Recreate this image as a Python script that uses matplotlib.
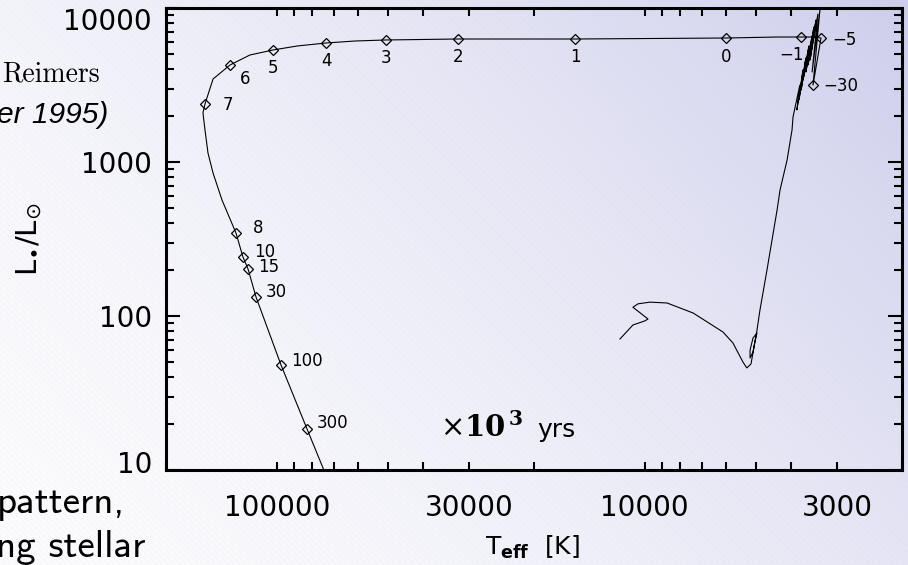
import numpy as np
import matplotlib
matplotlib.use("Agg")
import matplotlib.pyplot as plt
from matplotlib.ticker import FixedLocator, LogLocator, NullFormatter, FuncFormatter
from matplotlib.transforms import ScaledTranslation

# ---- evolutionary track (effective temperature in K, luminosity in L_sun) ----
track_teff = [
    11680, 10770, 9990, 9800, 10770, 10430, 9680, 8700, 7390, 6130, 5760,
    5410, 5280, 5145, 5020, 4955, 5080, 5175, 5175, 5080, 4955, 4865, 4655,
    4510, 4370, 4290, 4105, 3980, 3955,
    3790, 3860, 3715, 3810, 3650, 3760, 3580, 3715, 3510, 3650, 3470, 3600,
    3425, 3555, 3385, 3510, 3340,
    3490, 3320, 3510, 3763, 4373, 6016, 15470, 32170, 50500, 61300, 73490,
    88100, 102400, 118300, 134000, 149000, 156700, 158700, 156700, 153800,
    149000, 140900, 129100, 123600, 119700, 113900, 97390, 82780, 71700,
]
track_lum = [
    70.9, 87.4, 93.0, 95.6, 114, 120, 123, 121.5, 104.6, 78.7, 66.8,
    50.2, 46.0, 48.8, 67.8, 77.5, 72.0, 60.1, 53.4, 58.4, 81.1, 109, 199,
    312, 488, 658, 1030, 1614, 1960,
    3160, 2180, 3960, 2530, 4740, 2930, 5670, 3410, 6580, 3840, 7530, 4270,
    8360, 4600, 9140, 3840, 9850,
    3160, 6385, 6480, 6480, 6480, 6385, 6290, 6290, 6200, 6105, 5925,
    5665, 5337, 4953, 4265, 3459, 2380, 2081, 1614, 1144,
    848, 567, 346, 242, 202, 133, 48.1, 18.5, 8.0,
]

# ---- age markers (10^3 yr relative to the end of the AGB) ----
age_kyr = [-30, -5, -1, 0, 1, 2, 3, 4, 5, 6, 7, 8, 10, 15, 30, 100, 300]
age_teff = [3490, 3320, 3763, 6016, 15470, 32170, 50500, 73490, 102400,
            134000, 156700, 129100, 123600, 119700, 113900, 97390, 82780]
age_lum = [3160, 6385, 6480, 6385, 6290, 6290, 6200, 5925, 5337,
           4265, 2380, 346, 242, 202, 133, 48.1, 18.5]

x_ticks = [100000, 30000, 10000, 3000]
y_ticks = [10, 100, 1000, 10000]

# label placement for each age marker: pixels right / pixels down, alignment
label_place = {
    -30: (10, 1, "left"), -5: (11, 2, "left"), -1: (-9, 18, "center"),
    0: (0, 19, "center"), 1: (0, 18, "center"), 2: (0, 18, "center"),
    3: (0, 18, "center"), 4: (0, 18, "center"), 5: (0, 18, "center"),
    6: (10, 14, "left"), 7: (18, 1, "left"), 8: (17, -5, "left"),
    10: (11, -5, "left"), 15: (10, -2, "left"), 30: (10, -5, "left"),
    100: (10, -4, "left"), 300: (10, -6, "left"),
}

W, H = 908, 565
fig = plt.figure(figsize=(W / 100, H / 100), dpi=100)

# slide background: soft diagonal lavender gradient with fine hatching
bg = fig.add_axes([0, 0, 1, 1], zorder=-10)
yy, xx = np.mgrid[0:H, 0:W]
t = 0.65 * xx / W + 0.35 * (1 - yy / H)
w = t ** 1.6
white = np.array([252, 252, 254]) / 255
lav = np.array([206, 206, 236]) / 255
img = white + (lav - white) * w[..., None]
stripe = (0.5 * (1 + np.cos(2 * np.pi * (xx - yy) / 6))) ** 6
img = img - (stripe * (1 - w) * 5 / 255)[..., None]
bg.imshow(np.clip(img, 0, 1), aspect="auto", interpolation="nearest")
bg.set_axis_off()

# main HR diagram
ax = fig.add_axes([166 / W, (H - 470) / H, 736 / W, 462 / H])
ax.set_facecolor("none")
ax.set_xscale("log")
ax.set_yscale("log")
ax.set_xlim(2e5, 2e3)
ax.set_ylim(10, 1e4)

ax.plot(track_teff, track_lum, color="black", lw=0.8, zorder=3)
ax.plot(age_teff, age_lum, ls="none", marker="D", ms=5.5, mfc="none",
        mec="black", mew=0.9, zorder=4)
for age, te, lu in zip(age_kyr, age_teff, age_lum):
    dx, dy, ha = label_place[age]
    txt = str(age).replace("-", "\u2212")
    ax.annotate(txt, (te, lu), xytext=(dx, -dy), textcoords="offset pixels",
                ha=ha, va="center", fontsize=12, zorder=5)

ax.xaxis.set_major_locator(FixedLocator(x_ticks))
ax.yaxis.set_major_locator(FixedLocator(y_ticks))
fmt = FuncFormatter(lambda v, p: f"{v:.0f}")
ax.xaxis.set_major_formatter(fmt)
ax.yaxis.set_major_formatter(fmt)
ax.xaxis.set_minor_locator(LogLocator(base=10, subs=np.arange(2, 10)))
ax.yaxis.set_minor_locator(LogLocator(base=10, subs=np.arange(2, 10)))
ax.xaxis.set_minor_formatter(NullFormatter())
ax.yaxis.set_minor_formatter(NullFormatter())

ax.tick_params(which="both", direction="in", top=True, right=True,
               width=1.5, labelsize=20)
ax.tick_params(axis="x", which="both", length=6, pad=17)
ax.tick_params(axis="y", which="major", length=10, pad=10)
ax.tick_params(axis="y", which="minor", length=6)
for sp in ax.spines.values():
    sp.set_linewidth(2.2)

yt = ax.yaxis.get_major_ticks()
yt[-1].label1.set_va("top")
yt[0].label1.set_va("baseline")
yt[0].label1.set_transform(yt[0].label1.get_transform()
                           + ScaledTranslation(0, -3 / 100, fig.dpi_scale_trans))

# axis titles
fig.text(532 / W, 1 - 547 / H, r"T$_{\mathbf{eff}}$  [K]", fontsize=18,
         ha="center", va="center")
fig.text(29 / W, 1 - 239 / H, r"L$_{\bullet}$/L$_{\odot}$", fontsize=21,
         rotation=90, ha="center", va="center")

# time unit of the marker labels
fig.text(440 / W, 1 - 437 / H, r"$\times\mathbf{10}^{\,\mathbf{3}}$",
         fontsize=21, math_fontfamily="dejavuserif", ha="left", va="baseline")
fig.text(537 / W, 1 - 437 / H, "yrs", fontsize=18, ha="left", va="baseline")

# surrounding slide text
fig.text(100 / W, 1 - 81 / H, "Reimers", family="cmr10", fontsize=20,
         ha="right", va="baseline")
fig.text(108 / W, 1 - 123 / H, "er 1995)", family="Liberation Sans",
         style="italic", fontsize=21.5, ha="right", va="baseline")
fig.text(125 / W, 1 - 513 / H, "pattern,", family="cmss10", fontsize=28,
         ha="right", va="baseline")
fig.text(145 / W, 1 - 557 / H, "ng stellar", family="cmss10", fontsize=28,
         ha="right", va="baseline")

fig.savefig("out.png", dpi=100)
